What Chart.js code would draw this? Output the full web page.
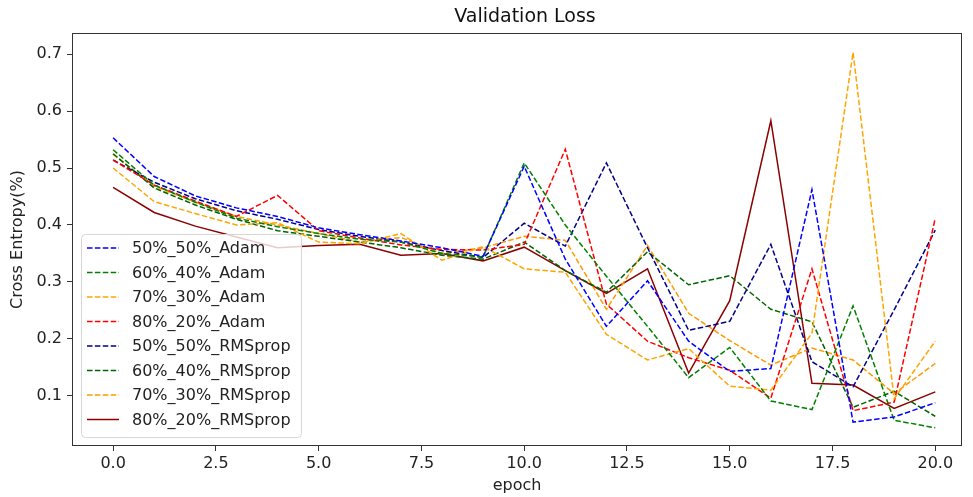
<!DOCTYPE html>
<html>
  <head>
    <style>
      body {
        margin: 0;
        background: #fff;
      }
    </style>
  </head>
  <body>
    <canvas id="loss" width="973" height="497"></canvas>

    <script src="https://cdn.jsdelivr.net/npm/chart.js"></script>
    <script>
      const epochs = [0, 1, 2, 3, 4, 5, 6, 7, 8, 9, 10, 11, 12, 13, 14, 15, 16, 17, 18, 19, 20];
      const xTicks = [0, 2.5, 5, 7.5, 10, 12.5, 15, 17.5, 20];
      const yTicks = [0.1, 0.2, 0.3, 0.4, 0.5, 0.6, 0.7];

      const adam50 = [0.553, 0.485, 0.451, 0.43, 0.415, 0.395, 0.383, 0.372, 0.36, 0.345, 0.503, 0.34, 0.222, 0.302, 0.196, 0.143, 0.148, 0.462, 0.054, 0.063, 0.088];
      const adam60 = [0.532, 0.47, 0.44, 0.412, 0.397, 0.385, 0.375, 0.37, 0.35, 0.344, 0.509, 0.4, 0.31, 0.222, 0.132, 0.185, 0.091, 0.076, 0.258, 0.057, 0.044];
      const adam70 = [0.5, 0.441, 0.42, 0.4, 0.404, 0.37, 0.367, 0.385, 0.338, 0.362, 0.323, 0.317, 0.208, 0.163, 0.183, 0.117, 0.11, 0.21, 0.703, 0.095, 0.196];
      const adam80 = [0.514, 0.47, 0.442, 0.415, 0.452, 0.39, 0.377, 0.365, 0.357, 0.356, 0.366, 0.533, 0.261, 0.196, 0.167, 0.145, 0.096, 0.323, 0.074, 0.089, 0.412];
      const rms50 = [0.514, 0.475, 0.446, 0.425, 0.41, 0.392, 0.38, 0.37, 0.355, 0.343, 0.403, 0.363, 0.509, 0.36, 0.215, 0.231, 0.366, 0.16, 0.116, 0.251, 0.391];
      const rms60 = [0.525, 0.465, 0.435, 0.41, 0.39, 0.38, 0.37, 0.36, 0.347, 0.34, 0.37, 0.32, 0.282, 0.353, 0.295, 0.311, 0.252, 0.23, 0.08, 0.108, 0.064];
      const rms70 = [0.524, 0.468, 0.44, 0.415, 0.4, 0.385, 0.37, 0.378, 0.35, 0.36, 0.38, 0.373, 0.252, 0.364, 0.245, 0.197, 0.154, 0.184, 0.163, 0.104, 0.157];
      const rms80 = [0.466, 0.422, 0.398, 0.379, 0.36, 0.364, 0.366, 0.347, 0.35, 0.337, 0.361, 0.32, 0.28, 0.323, 0.14, 0.267, 0.583, 0.122, 0.119, 0.078, 0.107];

      const FONT = 'DejaVu Sans';
      const DASH = [5.5, 2.4];

      function line(label, values, color, dashed) {
        return {
          label: label,
          data: values.map((v, i) => ({ x: epochs[i], y: v })),
          borderColor: color,
          backgroundColor: color,
          borderWidth: 1.5,
          borderDash: dashed ? DASH : [],
          pointRadius: 0,
          tension: 0,
          fill: false,
        };
      }

      // axes frame and the title above the plot area
      const frame = {
        id: 'frame',
        afterDraw(chart) {
          const { ctx, chartArea: a } = chart;
          ctx.save();
          ctx.strokeStyle = '#333';
          ctx.lineWidth = 1;
          ctx.strokeRect(a.left + 0.5, a.top + 0.5, a.right - a.left - 1, a.bottom - a.top - 1);
          ctx.fillStyle = '#111';
          ctx.font = '19px ' + FONT;
          ctx.textAlign = 'center';
          ctx.textBaseline = 'middle';
          ctx.fillText('Validation Loss', 525, 17);
          ctx.restore();
        },
      };

      // legend box inside the lower-left corner of the plot
      const innerLegend = {
        id: 'innerLegend',
        afterDatasetsDraw(chart) {
          const { ctx } = chart;
          const x0 = 81, y0 = 234, w = 220, h = 203, r = 4;
          ctx.save();
          ctx.beginPath();
          ctx.roundRect(x0 + 0.5, y0 + 0.5, w, h, r);
          ctx.fillStyle = 'rgba(255,255,255,0.8)';
          ctx.fill();
          ctx.strokeStyle = '#d6d6d6';
          ctx.lineWidth = 1;
          ctx.stroke();
          ctx.font = '16px ' + FONT;
          ctx.textBaseline = 'middle';
          chart.data.datasets.forEach((ds, i) => {
            const y = 248 + i * 24.5;
            ctx.beginPath();
            ctx.setLineDash(ds.borderDash);
            ctx.strokeStyle = ds.borderColor;
            ctx.lineWidth = ds.borderWidth;
            ctx.moveTo(87, y);
            ctx.lineTo(119, y);
            ctx.stroke();
            ctx.setLineDash([]);
            ctx.fillStyle = '#222';
            ctx.fillText(ds.label, 132, y + 1);
          });
          ctx.restore();
        },
      };

      const tickFont = { family: FONT, size: 16 };

      const config = {
        type: 'line',
        data: {
          datasets: [
            line('50%_50%_Adam', adam50, '#0000ff', true),
            line('60%_40%_Adam', adam60, '#008000', true),
            line('70%_30%_Adam', adam70, '#ffa500', true),
            line('80%_20%_Adam', adam80, '#ff0000', true),
            line('50%_50%_RMSprop', rms50, '#00008b', true),
            line('60%_40%_RMSprop', rms60, '#006400', true),
            line('70%_30%_RMSprop', rms70, '#ff9a00', true),
            line('80%_20%_RMSprop', rms80, '#8b0000', false),
          ],
        },
        options: {
          responsive: false,
          animation: false,
          layout: { padding: { left: 0, right: 11, top: 33, bottom: 0 } },
          plugins: {
            legend: { display: false },
            tooltip: { enabled: false },
          },
          scales: {
            x: {
              type: 'linear',
              min: -1,
              max: 20.65,
              afterBuildTicks(scale) {
                scale.ticks = xTicks.map((v) => ({ value: v }));
              },
              afterFit(scale) {
                scale.height = 51;
              },
              ticks: {
                color: '#222',
                font: tickFont,
                padding: 3,
                maxRotation: 0,
                callback: (v) => v.toFixed(1),
              },
              grid: { drawOnChartArea: false, tickLength: 5, tickColor: '#333' },
              border: { display: false },
              title: {
                display: true,
                text: 'epoch',
                color: '#222',
                font: tickFont,
                padding: { top: 0, bottom: 1.5 },
              },
            },
            y: {
              min: 0.012,
              max: 0.737,
              afterBuildTicks(scale) {
                scale.ticks = yTicks.map((v) => ({ value: v }));
              },
              afterFit(scale) {
                scale.width = 72;
              },
              ticks: {
                color: '#222',
                font: tickFont,
                padding: 5,
                callback: (v) => v.toFixed(1),
              },
              grid: { drawOnChartArea: false, tickLength: 5, tickColor: '#333' },
              border: { display: false },
              title: {
                display: true,
                text: 'Cross Entropy(%)',
                color: '#222',
                font: tickFont,
                padding: { top: 8.5, bottom: 0 },
              },
            },
          },
        },
        plugins: [frame, innerLegend],
      };

      new Chart(document.getElementById('loss'), config);
    </script>
  </body>
</html>
